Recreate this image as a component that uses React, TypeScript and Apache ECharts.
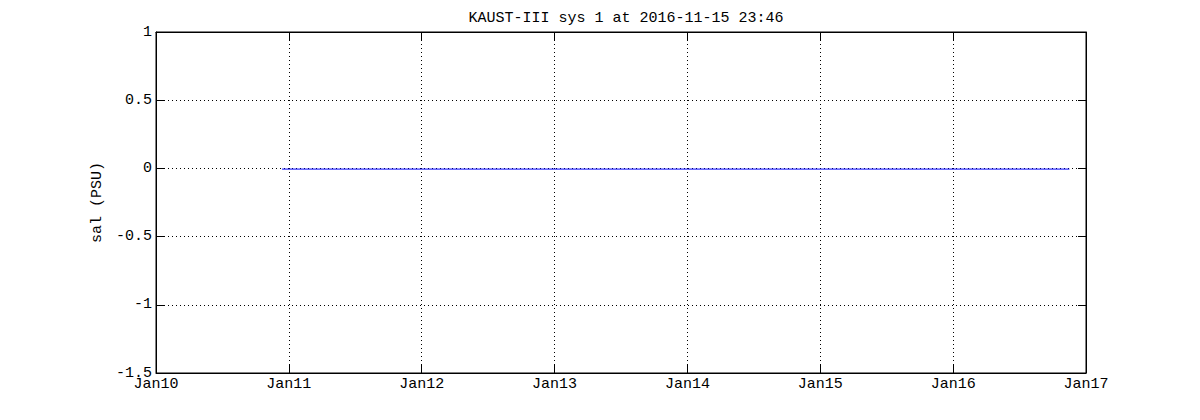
import React, { useEffect, useRef } from "react";
import * as echarts from "echarts";

const DAY = 86400000;
const xMin = Date.UTC(2016, 0, 10);
const xMax = Date.UTC(2016, 0, 17);
const titleText = "KAUST-III sys 1 at 2016-11-15 23:46";
const yName = "sal (PSU)";
const times = [
  "2016-01-10T22:45:00Z",
  "2016-01-12T00:00:00Z",
  "2016-01-13T00:00:00Z",
  "2016-01-14T00:00:00Z",
  "2016-01-15T00:00:00Z",
  "2016-01-16T00:00:00Z",
  "2016-01-16T21:00:00Z",
];
const salValues = [-0.005, -0.005, -0.005, -0.005, -0.005, -0.005, -0.005];

const FONT = "Liberation Mono";
const FS = 15;

export default function App() {
  const ref = useRef<HTMLDivElement>(null);
  useEffect(() => {
    if (!ref.current) return;
    const chart = echarts.init(ref.current, null, { renderer: "svg" });
    const data = times.map((t, i) => [Date.parse(t), salValues[i]]);
    const dotted = { color: "#000", width: 1, type: [1, 3] as any };
    const line = { show: true, onZero: false, lineStyle: { color: "#000" } };
    const tick = { show: true, inside: true, length: 8, lineStyle: { color: "#000" } };
    chart.setOption({
      animation: false,
      backgroundColor: "#fff",
      title: {
        text: titleText,
        left: 621,
        top: 6,
        textAlign: "center",
        textStyle: { fontFamily: FONT, fontSize: FS, fontWeight: "normal", color: "#000" },
      },
      grid: {
        left: 156,
        top: 32,
        width: 930,
        height: 341,
        show: true,
        borderColor: "#000",
        borderWidth: 1,
        backgroundColor: "#fff",
      },
      xAxis: [
        {
          type: "value",
          min: xMin,
          max: xMax,
          interval: DAY,
          position: "bottom",
          axisLine: line,
          axisTick: tick,
          axisLabel: {
            color: "#000",
            fontFamily: FONT,
            fontSize: FS,
            margin: 4,
            formatter: (v: number) => "Jan" + String(new Date(v).getUTCDate()).padStart(2, "0"),
          },
          splitLine: { show: true, lineStyle: dotted },
        },
        {
          type: "value",
          min: xMin,
          max: xMax,
          interval: DAY,
          position: "top",
          axisLine: line,
          axisTick: tick,
          axisLabel: { show: false },
          splitLine: { show: false },
        },
      ],
      yAxis: [
        {
          type: "value",
          min: -1.5,
          max: 1,
          interval: 0.5,
          position: "left",
          name: yName,
          nameLocation: "middle",
          nameGap: 48,
          nameRotate: 90,
          nameTextStyle: { fontFamily: FONT, fontSize: FS, color: "#000" },
          axisLine: line,
          axisTick: tick,
          axisLabel: { color: "#000", fontFamily: FONT, fontSize: FS, margin: 4 },
          splitLine: { show: true, lineStyle: dotted },
        },
        {
          type: "value",
          min: -1.5,
          max: 1,
          interval: 0.5,
          position: "right",
          axisLine: line,
          axisTick: tick,
          axisLabel: { show: false },
          splitLine: { show: false },
        },
      ],
      series: [
        {
          type: "line",
          data,
          xAxisIndex: 0,
          yAxisIndex: 0,
          showSymbol: false,
          symbol: "none",
          lineStyle: { color: "#0000ff", width: 1 },
        },
      ],
    });
    return () => chart.dispose();
  }, []);
  return (
    <div
      ref={ref}
      style={{ position: "absolute", left: 0, top: 0, width: 1200, height: 420 }}
    />
  );
}
